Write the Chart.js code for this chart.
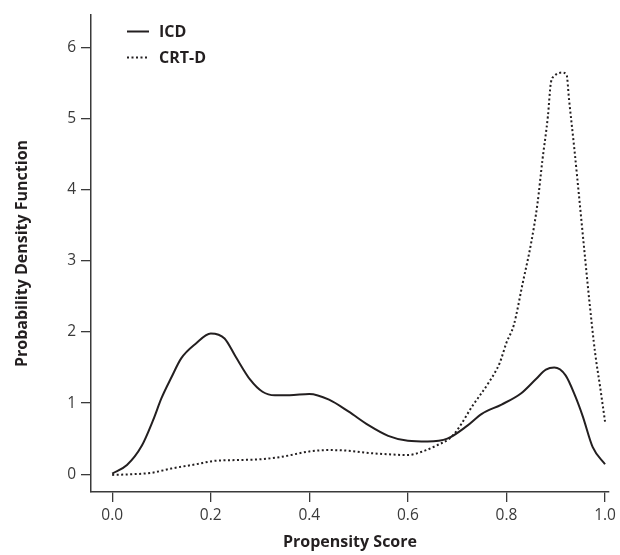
<!DOCTYPE html>
<html>
<head>
<meta charset="utf-8">
<script src="https://cdn.jsdelivr.net/npm/chart.js@4.4.1/dist/chart.umd.min.js"></script>
<style>
  html, body { margin: 0; padding: 0; background: #ffffff; }
  #wrap { width: 620px; height: 555px; position: relative; }
</style>
</head>
<body>
<div id="wrap"><canvas id="c" width="620" height="555"></canvas></div>
<script>
// ---- data ----
const icdX = [0, 0.03, 0.06, 0.083, 0.10, 0.12, 0.14, 0.17, 0.20, 0.228, 0.25, 0.28, 0.305, 0.33, 0.36, 0.40, 0.44, 0.48, 0.52, 0.56, 0.60, 0.64, 0.68, 0.72, 0.75, 0.79, 0.83, 0.86, 0.88, 0.897, 0.92, 0.94, 0.955, 0.975, 1.0];
const icdY = [0.01, 0.13, 0.40, 0.76, 1.07, 1.36, 1.63, 1.84, 1.98, 1.91, 1.66, 1.33, 1.16, 1.11, 1.11, 1.13, 1.05, 0.88, 0.69, 0.54, 0.47, 0.46, 0.50, 0.68, 0.85, 0.98, 1.14, 1.34, 1.47, 1.50, 1.39, 1.09, 0.81, 0.38, 0.14];

const crtX = [0, 0.04, 0.08, 0.12, 0.17, 0.21, 0.26, 0.30, 0.34, 0.40, 0.44, 0.48, 0.52, 0.56, 0.60, 0.63, 0.66, 0.684, 0.70, 0.73, 0.765, 0.786, 0.80, 0.815, 0.833, 0.85, 0.863, 0.873, 0.884, 0.89, 0.897, 0.913, 0.922, 0.927, 0.938, 0.948, 0.958, 0.968, 0.98, 0.99, 1.0];
const crtY = [-0.01, 0.0, 0.02, 0.08, 0.14, 0.19, 0.20, 0.21, 0.24, 0.32, 0.34, 0.33, 0.30, 0.28, 0.27, 0.32, 0.41, 0.50, 0.62, 0.95, 1.30, 1.56, 1.85, 2.10, 2.69, 3.25, 3.81, 4.42, 5.03, 5.50, 5.60, 5.65, 5.62, 5.27, 4.56, 3.86, 3.15, 2.45, 1.70, 1.23, 0.74];

const seriesNames = ['ICD', 'CRT-D'];
const xTicks = [0.0, 0.2, 0.4, 0.6, 0.8, 1.0];
const yTicks = [0, 1, 2, 3, 4, 5, 6];
const xTitle = 'Propensity Score';
const yTitle = 'Probability Density Function';

// ---- chart ----
const ink = '#231f20';
const tickInk = '#3a3a3a';
const toPts = (xs, ys) => xs.map((x, i) => ({ x: x, y: ys[i] }));

const legendPlugin = {
  id: 'insideLegend',
  afterDraw(chart) {
    const ctx = chart.ctx;
    const items = [
      { label: seriesNames[0], dash: [], y: 31.5 },
      { label: seriesNames[1], dash: [2, 2.5], y: 57.5 }
    ];
    ctx.save();
    items.forEach(it => {
      ctx.beginPath();
      ctx.setLineDash(it.dash);
      ctx.lineWidth = 2;
      ctx.strokeStyle = ink;
      ctx.moveTo(127, it.y);
      ctx.lineTo(149, it.y);
      ctx.stroke();
      ctx.setLineDash([]);
      ctx.fillStyle = ink;
      ctx.font = 'bold 16px "Open Sans"';
      ctx.textBaseline = 'middle';
      ctx.textAlign = 'left';
      ctx.fillText(it.label, 159, it.y + 0.5);
    });
    ctx.restore();
  }
};

new Chart(document.getElementById('c'), {
  type: 'line',
  data: {
    datasets: [
      {
        label: seriesNames[0],
        data: toPts(icdX, icdY),
        borderColor: ink,
        borderWidth: 2,
        pointRadius: 0,
        fill: false,
        cubicInterpolationMode: 'monotone'
      },
      {
        label: seriesNames[1],
        data: toPts(crtX, crtY),
        borderColor: ink,
        borderWidth: 2,
        borderDash: [2, 2.5],
        pointRadius: 0,
        fill: false,
        cubicInterpolationMode: 'monotone'
      }
    ]
  },
  options: {
    responsive: false,
    animation: false,
    devicePixelRatio: 1,
    layout: { padding: { top: 15, right: 10, left: 0, bottom: 0 } },
    plugins: {
      legend: { display: false },
      tooltip: { enabled: false }
    },
    scales: {
      x: {
        type: 'linear',
        min: -0.043,
        max: 1.008,
        afterBuildTicks(scale) { scale.ticks = xTicks.map(v => ({ value: v })); },
        afterFit(scale) { scale.height = 63; },
        ticks: {
          callback: v => Number(v).toFixed(1),
          color: tickInk,
          font: { family: 'Open Sans', size: 15.5 },
          padding: 4,
          maxRotation: 0,
          autoSkip: false
        },
        grid: {
          display: true,
          drawOnChartArea: false,
          drawTicks: true,
          tickLength: 10,
          color: tickInk,
          lineWidth: 1.3
        },
        border: { display: true, color: tickInk, width: 1.5 },
        title: {
          display: true,
          text: xTitle,
          color: ink,
          font: { family: 'Open Sans', size: 16, weight: 'bold' },
          padding: { top: 0, bottom: 2.5 }
        }
      },
      y: {
        type: 'linear',
        min: -0.25,
        max: 6.46,
        afterBuildTicks(scale) { scale.ticks = yTicks.map(v => ({ value: v })); },
        afterFit(scale) { scale.width = 91; },
        ticks: {
          callback: v => String(v),
          color: tickInk,
          font: { family: 'Open Sans', size: 15.5 },
          padding: 5,
          autoSkip: false
        },
        grid: {
          display: true,
          drawOnChartArea: false,
          drawTicks: true,
          tickLength: 10,
          color: tickInk,
          lineWidth: 1.3
        },
        border: { display: true, color: tickInk, width: 1.5 },
        title: {
          display: true,
          text: yTitle,
          color: ink,
          font: { family: 'Open Sans', size: 16, weight: 'bold' },
          padding: { top: 13, bottom: 0 }
        }
      }
    }
  },
  plugins: [legendPlugin]
});
</script>
</body>
</html>
